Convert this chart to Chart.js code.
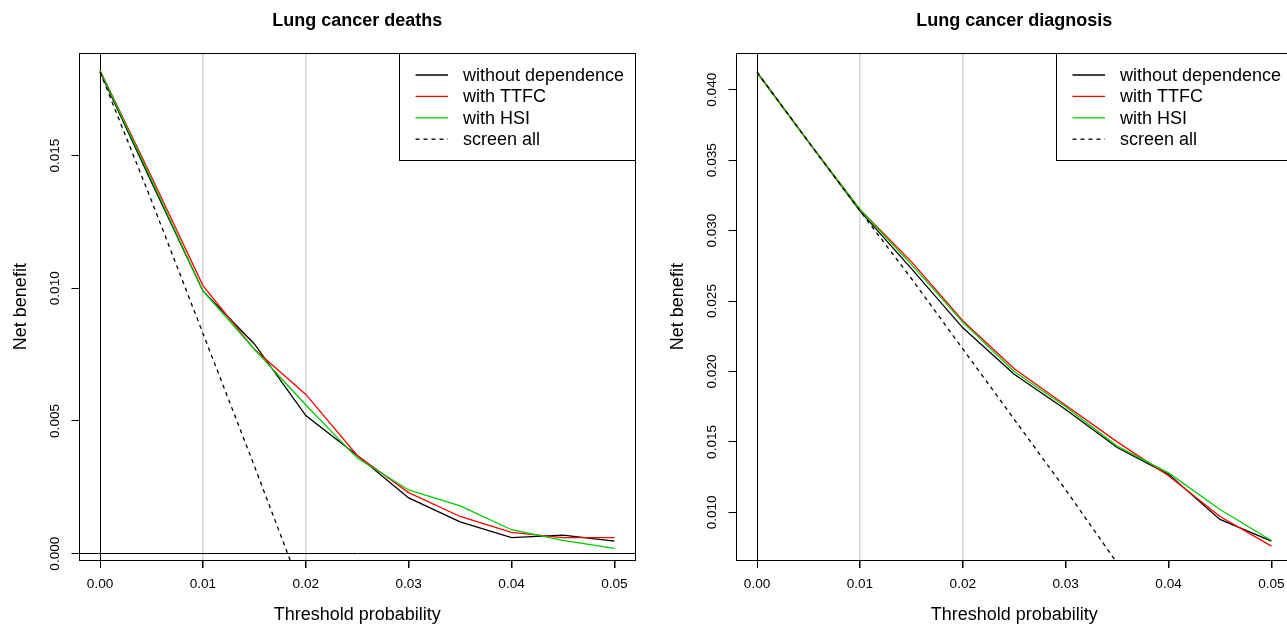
<!DOCTYPE html>
<html>
<head>
<meta charset="utf-8">
<script src="https://cdn.jsdelivr.net/npm/chart.js@4.4.0/dist/chart.umd.min.js"></script>
<style>
  html, body { margin: 0; padding: 0; background: #fff; overflow: hidden; }
  body { width: 1287px; height: 625px; position: relative; }
  canvas { position: absolute; top: 0; }
  #deaths { left: 0px; }
  #diagnosis { left: 657px; }
</style>
</head>
<body>
<canvas id="deaths" width="655" height="625"></canvas>
<canvas id="diagnosis" width="655" height="625"></canvas>
<script>
// threshold probabilities (x)
const thresholds = [0, 0.005, 0.01, 0.015, 0.02, 0.025, 0.03, 0.035, 0.04, 0.045, 0.05];
const seriesNames = ["without dependence", "with TTFC", "with HSI", "screen all"];
const seriesColors = ["#000000", "#ff0000", "#00cd00", "#000000"];

// Lung cancer deaths
const deathsWithout = [0.01815, 0.0140, 0.0099, 0.0079, 0.0052, 0.0037, 0.0021, 0.0012, 0.0006, 0.0007, 0.00047];
const deathsTTFC = [0.0182, 0.0142, 0.0101, 0.0077, 0.0060, 0.0037, 0.0023, 0.0014, 0.0008, 0.0006, 0.0006];
const deathsHSI = [0.0182, 0.0141, 0.0099, 0.0077, 0.0056, 0.0036, 0.0024, 0.0018, 0.0009, 0.0005, 0.0002];
const deathsScreenAll = [0.01815, 0.0133, 0.0083, 0.0033, -0.0018];

// Lung cancer diagnosis
const diagWithout = [0.04125, 0.0363, 0.0314, 0.0273, 0.0231, 0.0198, 0.0173, 0.0146, 0.0127, 0.0095, 0.00795];
const diagTTFC = [0.0412, 0.0363, 0.0315, 0.0278, 0.0236, 0.0202, 0.0176, 0.0150, 0.0126, 0.0097, 0.0076];
const diagHSI = [0.0412, 0.0363, 0.0315, 0.0276, 0.0235, 0.0200, 0.0175, 0.0147, 0.0128, 0.0102, 0.0080];
const diagScreenAll = [0.04125, 0.0363, 0.0314, 0.0266, 0.0216, 0.0166, 0.0116, 0.0064];

// tick labels
const xTicks = [0, 0.01, 0.02, 0.03, 0.04, 0.05];
const grayLines = [0.01, 0.02];

const FONT = "'Liberation Sans', Arial, Helvetica, sans-serif";
Chart.defaults.font.family = FONT;
Chart.defaults.color = "#000";

function toPoints(values) {
  return values.map(function (v, i) {
    return { x: thresholds[i], y: v };
  });
}

function near(a, b) {
  return Math.abs(a - b) < 1e-9;
}

// R style box round the plot region
const plotBox = {
  id: "plotBox",
  afterDraw(chart) {
    const a = chart.chartArea;
    const ctx = chart.ctx;
    ctx.save();
    ctx.strokeStyle = "#000";
    ctx.lineWidth = 1;
    ctx.strokeRect(Math.round(a.left) - 0.5, Math.round(a.top) + 0.5,
      Math.round(a.right) - Math.round(a.left) + 1, Math.round(a.bottom) - Math.round(a.top));
    ctx.restore();
  },
};

// legend box in the top right corner
const boxLegend = {
  id: "boxLegend",
  afterDatasetsDraw(chart) {
    const a = chart.chartArea;
    const ctx = chart.ctx;
    const w = 236, h = 107;
    const left = Math.round(a.right - w) + 0.5;
    const top = Math.round(a.top) + 0.5;
    ctx.save();
    ctx.fillStyle = "#fff";
    ctx.fillRect(left, top, w, h);
    ctx.strokeStyle = "#000";
    ctx.lineWidth = 1;
    ctx.strokeRect(left, top, w, h);
    ctx.font = "18px " + FONT;
    ctx.textBaseline = "middle";
    ctx.textAlign = "left";
    chart.data.datasets.forEach(function (ds, i) {
      const y = top + 21.5 + i * 21.4;
      ctx.beginPath();
      ctx.strokeStyle = ds.borderColor;
      ctx.lineWidth = 1.3;
      ctx.setLineDash(ds.borderDash || []);
      ctx.moveTo(left + 16, y);
      ctx.lineTo(left + 48.5, y);
      ctx.stroke();
      ctx.setLineDash([]);
      ctx.fillStyle = "#000";
      ctx.fillText(ds.label, left + 63.5, y + 1);
    });
    ctx.restore();
  },
};

function makeChart(canvasId, title, series, yMin, yMax) {
  const datasets = series.map(function (values, i) {
    return {
      label: seriesNames[i],
      data: toPoints(values),
      borderColor: seriesColors[i],
      borderWidth: 1.3,
      borderDash: i === 3 ? [4, 4] : [],
      pointRadius: 0,
      tension: 0,
      order: 4 - i,
      clip: 0,
    };
  });

  return new Chart(document.getElementById(canvasId), {
    type: "line",
    data: { datasets: datasets },
    options: {
      responsive: false,
      animation: false,
      devicePixelRatio: 1,
      layout: { padding: { left: 0, right: 20, top: 0, bottom: 0 } },
      plugins: {
        legend: { display: false },
        tooltip: { enabled: false },
        title: {
          display: true,
          text: title,
          fullSize: false,
          color: "#000",
          font: { size: 18, weight: "bold", family: FONT },
          padding: { top: 10.5, bottom: 21.2 },
        },
      },
      scales: {
        x: {
          type: "linear",
          min: -0.002,
          max: 0.052,
          afterFit: function (s) { s.height = 65; },
          afterBuildTicks: function (s) {
            s.ticks = xTicks.map(function (v) { return { value: v }; });
          },
          ticks: {
            font: { size: 13.6 },
            padding: 8,
            maxRotation: 0,
            minRotation: 0,
            callback: function (v) { return v.toFixed(2); },
          },
          grid: {
            tickLength: 8,
            tickColor: "#000",
            color: function (c) {
              const v = c.tick ? c.tick.value : null;
              if (v === null) return "rgba(0,0,0,0)";
              if (near(v, 0)) return "#000";
              if (grayLines.some(function (g) { return near(g, v); })) return "#d3d3d3";
              return "rgba(0,0,0,0)";
            },
            lineWidth: function (c) {
              const v = c.tick ? c.tick.value : 0;
              return near(v, 0) ? 1 : 1.5;
            },
          },
          border: { display: false },
          title: {
            display: true,
            text: "Threshold probability",
            font: { size: 18 },
            padding: { top: 0, bottom: -1 },
          },
        },
        y: {
          type: "linear",
          min: yMin,
          max: yMax,
          afterFit: function (s) { s.width = 79.5; },
          ticks: {
            stepSize: 0.005,
            includeBounds: false,
            font: { size: 13.6 },
            minRotation: 90,
            maxRotation: 90,
            crossAlign: "center",
            padding: -1,
            callback: function (v) { return v.toFixed(3); },
          },
          grid: {
            tickLength: 8,
            tickColor: "#000",
            color: function (c) {
              const v = c.tick ? c.tick.value : null;
              return v !== null && near(v, 0) ? "#000" : "rgba(0,0,0,0)";
            },
          },
          border: { display: false },
          title: {
            display: true,
            text: "Net benefit",
            font: { size: 18 },
            padding: { top: 10, bottom: 0 },
          },
        },
      },
    },
    plugins: [plotBox, boxLegend],
  });
}

makeChart("deaths", "Lung cancer deaths",
  [deathsWithout, deathsTTFC, deathsHSI, deathsScreenAll], -0.00024, 0.018854);
makeChart("diagnosis", "Lung cancer diagnosis",
  [diagWithout, diagTTFC, diagHSI, diagScreenAll], 0.006616, 0.042588);
</script>
</body>
</html>
